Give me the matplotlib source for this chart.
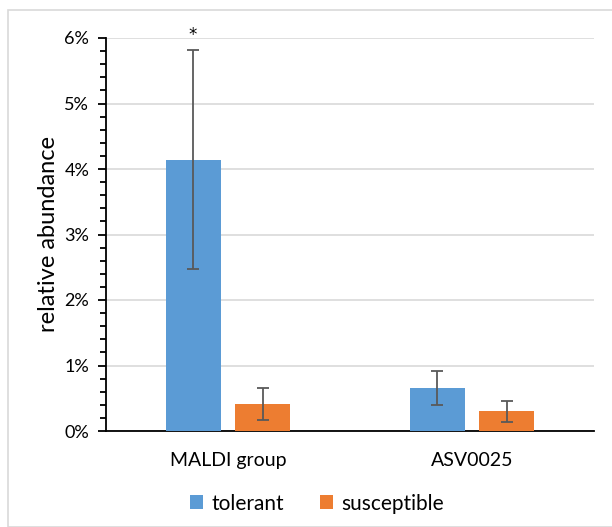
import numpy as np
import matplotlib
matplotlib.use("Agg")
import matplotlib.pyplot as plt
from matplotlib.patches import Rectangle
from matplotlib.ticker import MultipleLocator, FuncFormatter

plt.rcParams['font.family'] = ['Lato', 'DejaVu Sans']

groups = ["MALDI group", "ASV0025"]
tolerant = [4.14, 0.66]
tolerant_err = [1.67, 0.26]
susceptible = [0.41, 0.30]
susceptible_err = [0.245, 0.165]

fig = plt.figure(figsize=(6.12, 5.27), dpi=100)
# light frame around the whole chart
fig.patches.append(Rectangle((8 / 612, 0), 1, 1 - 10 / 527, transform=fig.transFigure,
                             fill=False, edgecolor="#d9d9d9", linewidth=1.2))

ax = fig.add_axes([106 / 612, 1 - 431 / 527, 488 / 612, 393 / 527])

x = np.arange(len(groups))
w = 0.225
off = 0.143
err_kw = dict(ecolor="#595959", elinewidth=1.3, capsize=4, capthick=1.3)
ax.bar(x - off, tolerant, w, color="#5b9bd5", label="tolerant",
       yerr=tolerant_err, error_kw=err_kw, zorder=3)
ax.bar(x + off, susceptible, w, color="#ed7d31", label="susceptible",
       yerr=susceptible_err, error_kw=err_kw, zorder=3)

ax.text(x[0] - off, tolerant[0] + tolerant_err[0] + 0.1, "*", ha="center", va="bottom",
        fontsize=12, color="black", family="DejaVu Sans")

ax.set_xlim(-0.5, 1.5)
ax.set_ylim(0, 6)
ax.yaxis.set_major_locator(MultipleLocator(1))
ax.yaxis.set_minor_locator(MultipleLocator(0.2))
ax.yaxis.set_major_formatter(FuncFormatter(lambda v, p: f"{v:.0f}%"))
ax.grid(axis="y", color="#d9d9d9", linewidth=1.2, zorder=0)
ax.set_axisbelow(True)

ax.set_xticks(x)
ax.set_xticklabels(groups, fontsize=14)
ax.tick_params(axis="x", length=0, pad=15)
ax.tick_params(axis="y", which="major", length=6, width=1.3, labelsize=13, pad=6)
ax.tick_params(axis="y", which="minor", length=4, width=1.3)

for s in ["top", "right"]:
    ax.spines[s].set_visible(False)
ax.spines["left"].set_linewidth(1.3)
ax.spines["bottom"].set_linewidth(1.3)

ax.set_ylabel("relative abundance", fontsize=17, labelpad=4)

fig.legend(loc="lower center", bbox_to_anchor=(0.518, -0.01), ncol=2, frameon=False,
           fontsize=15, handlelength=0.65, handleheight=0.65, handletextpad=0.4,
           columnspacing=1.7)

fig.savefig("out.png", dpi=100)
